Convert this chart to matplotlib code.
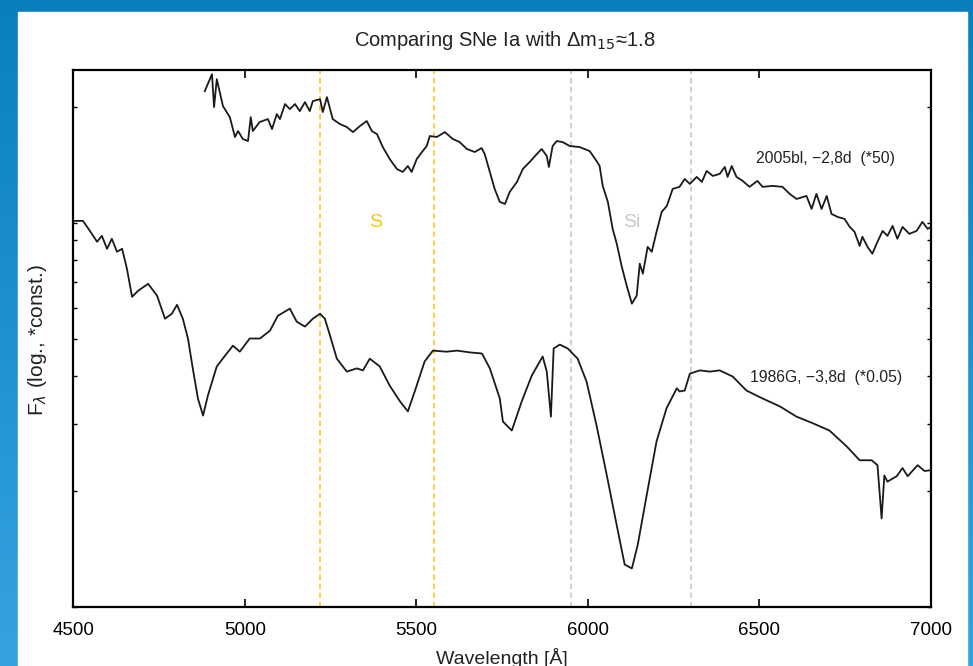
import numpy as np
import matplotlib
matplotlib.use("Agg")
import matplotlib.pyplot as plt
from matplotlib.ticker import LogLocator, NullFormatter, FixedLocator

plt.rcParams['font.family'] = ['Liberation Sans', 'DejaVu Sans']

# ---------------------------------------------------------------
# data (wavelength in Angstrom, flux arb.)
# ---------------------------------------------------------------
wl_2005bl = [4883, 4904, 4910, 4918, 4936, 4956, 4971, 4980, 4994, 5009,
             5017, 5023, 5043, 5067, 5079, 5093, 5102, 5117, 5131, 5146,
             5160, 5175, 5189, 5198, 5219, 5227, 5239, 5256, 5277, 5297,
             5315, 5335, 5355, 5370, 5385, 5402, 5422, 5443, 5460, 5475,
             5486, 5501, 5516, 5530, 5539, 5559, 5583, 5606, 5626, 5647,
             5670, 5690, 5699, 5714, 5728, 5743, 5758, 5772, 5793, 5810,
             5830, 5851, 5865, 5880, 5886, 5897, 5909, 5926, 5947, 5976,
             6005, 6025, 6034, 6043, 6058, 6072, 6084, 6098, 6113, 6128,
             6142, 6151, 6160, 6174, 6186, 6200, 6215, 6230, 6247, 6267,
             6282, 6297, 6317, 6332, 6346, 6364, 6384, 6399, 6407, 6419,
             6433, 6451, 6471, 6494, 6509, 6538, 6567, 6588, 6608, 6637,
             6652, 6666, 6681, 6696, 6710, 6728, 6748, 6763, 6777, 6792,
             6800, 6815, 6829, 6844, 6859, 6873, 6888, 6902, 6917, 6937,
             6958, 6975, 6990, 7000]
fl_2005bl = [22.03, 24.38, 20.01, 23.66, 20.13, 18.85, 16.73, 17.34, 16.53, 16.33,
             18.85, 17.34, 18.30, 18.63, 17.55, 19.19, 18.63, 20.38, 19.78, 20.38,
             19.54, 20.62, 19.54, 20.75, 20.99, 19.43, 21.25, 18.63, 18.08, 17.76,
             17.23, 17.86, 18.41, 17.34, 17.02, 15.75, 14.67, 13.81, 13.57, 14.06,
             13.57, 14.67, 15.29, 15.85, 16.83, 16.73, 17.23, 16.53, 16.23, 15.57,
             15.29, 15.66, 15.11, 13.57, 12.26, 11.34, 11.20, 12.04, 12.78, 13.81,
             14.40, 15.11, 15.57, 14.93, 13.98, 15.85, 16.33, 16.23, 15.85, 15.75,
             15.38, 14.49, 14.06, 12.48, 11.34, 9.65, 8.82, 7.73, 6.86, 6.16,
             6.46, 7.83, 7.37, 8.66, 8.41, 9.48, 10.68, 11.07, 12.26, 12.41,
             13.01, 12.63, 13.17, 12.78, 13.65, 13.25, 13.41, 13.98, 13.17, 14.06,
             13.17, 12.86, 12.41, 12.86, 12.41, 12.48, 12.41, 11.90, 11.54, 11.75,
             10.87, 11.90, 10.87, 11.75, 10.55, 10.36, 10.24, 9.76, 9.48, 8.71,
             9.20, 8.66, 8.31, 8.93, 9.53, 9.25, 9.82, 9.09, 9.76, 9.36,
             9.53, 10.06, 9.65, 9.76]

wl_1986G = [4500, 4528, 4548, 4569, 4583, 4598, 4612, 4627, 4642, 4656,
            4671, 4689, 4718, 4744, 4767, 4787, 4802, 4819, 4834, 4848,
            4863, 4878, 4892, 4918, 4942, 4965, 4985, 5014, 5044, 5073,
            5096, 5131, 5151, 5175, 5198, 5219, 5233, 5248, 5268, 5297,
            5326, 5344, 5364, 5393, 5422, 5452, 5475, 5495, 5524, 5548,
            5588, 5618, 5656, 5691, 5714, 5743, 5752, 5778, 5807, 5836,
            5868, 5880, 5892, 5900, 5918, 5941, 5970, 5996, 6025, 6055,
            6084, 6107, 6128, 6145, 6171, 6200, 6229, 6259, 6267, 6282,
            6297, 6326, 6355, 6384, 6422, 6462, 6509, 6559, 6608, 6655,
            6704, 6754, 6792, 6827, 6844, 6856, 6864, 6873, 6900, 6917,
            6932, 6961, 6981, 7000]
fl_1986G = [10.12, 10.12, 9.53, 8.93, 9.25, 8.56, 9.09, 8.41, 8.56, 7.60,
            6.42, 6.66, 6.94, 6.46, 5.63, 5.80, 6.12, 5.63, 5.00, 4.18,
            3.49, 3.15, 3.55, 4.23, 4.51, 4.79, 4.62, 5.00, 5.00, 5.24,
            5.73, 5.98, 5.53, 5.37, 5.63, 5.80, 5.63, 5.09, 4.43, 4.10,
            4.18, 4.13, 4.43, 4.23, 3.77, 3.43, 3.23, 3.64, 4.36, 4.65,
            4.62, 4.65, 4.60, 4.57, 4.18, 3.49, 3.04, 2.88, 3.43, 4.00,
            4.49, 4.10, 3.13, 4.71, 4.82, 4.71, 4.43, 3.86, 2.97, 2.20,
            1.63, 1.29, 1.26, 1.45, 1.95, 2.70, 3.29, 3.71, 3.64, 3.66,
            4.05, 4.13, 4.10, 4.13, 3.98, 3.66, 3.49, 3.33, 3.13, 3.01,
            2.88, 2.62, 2.41, 2.41, 2.34, 1.70, 2.20, 2.12, 2.19, 2.30,
            2.19, 2.34, 2.26, 2.27]

s_lines = [5220, 5550]
si_lines = [5950, 6300]
xticks = [4500, 5000, 5500, 6000, 6500, 7000]

# ---------------------------------------------------------------
# figure with slide-like blue frame
# ---------------------------------------------------------------
fig = plt.figure(figsize=(9.73, 6.66), dpi=100)
bg = fig.add_axes([0, 0, 1, 1], zorder=-10)
grad = np.linspace(0, 1, 256).reshape(-1, 1)
cmap = matplotlib.colors.LinearSegmentedColormap.from_list(
    'slide', ['#0a7fc0', '#36a3e0'])
bg.imshow(grad, aspect='auto', cmap=cmap, extent=[0, 1, 0, 1], origin='upper')
bg.add_patch(plt.Rectangle((18 / 973, 0), (967 - 18) / 973, 654 / 666,
                           color='white', transform=bg.transAxes))
bg.set_xlim(0, 1)
bg.set_ylim(0, 1)
bg.axis('off')

ax = fig.add_axes([73.4 / 973, 59 / 666, (931 - 73.4) / 973, (607 - 70) / 666])
ax.set_facecolor('white')

for x in s_lines:
    ax.axvline(x, color='#ffcc33', ls=(0, (3, 2)), lw=1.3, zorder=1)
for x in si_lines:
    ax.axvline(x, color='#cccccc', ls=(0, (3, 2)), lw=1.3, zorder=1)

ax.plot(wl_2005bl, fl_2005bl, color='#1a1a1a', lw=1.3, zorder=3)
ax.plot(wl_1986G, fl_1986G, color='#1a1a1a', lw=1.3, zorder=3)

ax.set_yscale('log')
ax.set_xlim(4500, 7000)
ax.set_ylim(1.0, 25.0)
ax.xaxis.set_major_locator(FixedLocator(xticks))
ax.yaxis.set_major_locator(LogLocator(base=10))
ax.yaxis.set_minor_locator(LogLocator(base=10, subs=np.arange(2, 10)))
ax.yaxis.set_major_formatter(NullFormatter())
ax.yaxis.set_minor_formatter(NullFormatter())

ax.tick_params(axis='x', which='major', direction='in', length=6, width=1.2,
               top=True, labelsize=13.5, pad=11)
ax.tick_params(axis='y', which='both', direction='in', length=3, width=1.0,
               right=True)
for sp in ax.spines.values():
    sp.set_linewidth(1.6)

ax.text(6491, 14.67, '2005bl, \u22122,8d  (*50)', fontsize=11.3,
        ha='left', va='center', color='#222222')
ax.text(6471, 3.96, '1986G, \u22123,8d  (*0.05)', fontsize=11.3,
        ha='left', va='center', color='#222222')
ax.text(5381, 10.0, 'S', fontsize=14, color='#f5c518', ha='center', va='center')
ax.text(6128, 10.0, 'Si', fontsize=14, color='#c8c8c8', ha='center', va='center')

fig.text(0.519, 1 - 40 / 666, 'Comparing SNe Ia with \u0394m$_{15}$\u22481.8',
         fontsize=14.5, ha='center', va='center', color='#222222')
fig.text(38 / 973, 1 - 340 / 666, r'F$_\lambda$ (log., *const.)', fontsize=15,
         rotation=90, ha='center', va='center', color='#222222')
ax.set_xlabel('Wavelength [\u00c5]', fontsize=14, labelpad=6, color='#222222')

fig.savefig('out.png', dpi=100)
